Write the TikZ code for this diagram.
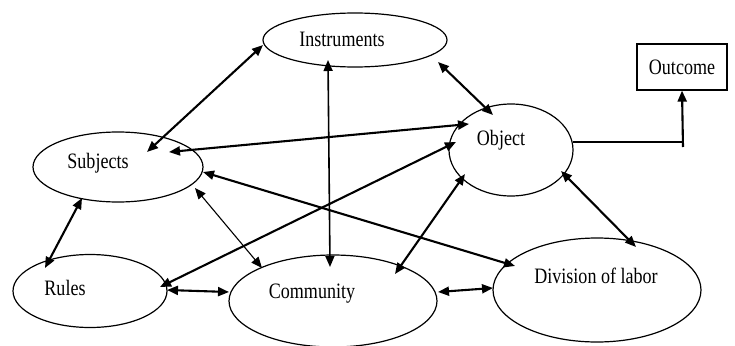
\documentclass[tikz,border=0pt]{standalone}
\usepackage{fontspec}
\setmainfont{Liberation Serif}[FakeStretch=0.82]
\usetikzlibrary{arrows.meta,shapes.geometric}
\begin{document}
\begin{tikzpicture}[x=1pt,y=-1pt,
  ell/.style={draw,ellipse,line width=1.2pt,inner sep=0pt},
  lbl/.style={anchor=base,inner sep=0pt,font=\fontsize{22}{24}\selectfont},
  tip/.style={{Triangle[length=11pt,width=9pt]}-{Triangle[length=11pt,width=9pt]}},
  heavy/.style={tip,line width=2.1pt},
  medium/.style={tip,line width=1.6pt},
  light/.style={tip,line width=1.1pt},
  ]
\useasboundingbox (0,0) rectangle (735,345);
% ellipses
\node[ell,minimum width=184pt,minimum height=54pt] (inst) at (355,40) {};
\node[ell,minimum width=170pt,minimum height=70pt] (subj) at (118,167) {};
\node[ell,minimum width=124pt,minimum height=92pt] (obj) at (511,150) {};
\node[ell,minimum width=154pt,minimum height=73pt] (rules) at (90,291) {};
\node[ell,minimum width=208pt,minimum height=92pt] (comm) at (333,301) {};
\node[ell,minimum width=208pt,minimum height=104pt] (div) at (597,290) {};
\node[draw,line width=1.2pt,minimum width=90pt,minimum height=46pt,inner sep=0pt,
      font=\fontsize{22}{24}\selectfont] (out) at (682,67) {Outcome};
% labels
\node[lbl] (instT) at (342,47) {Instruments};
\node[lbl] (subjT) at (98,168) {Subjects};
\node[lbl] (objT) at (501,145) {Object};
\node[lbl] (rulesT) at (65,295) {Rules};
\node[lbl] (commT) at (312,298) {Community};
\node[lbl] (divT) at (596,283) {Division of labor};
% connectors
\draw[heavy] ([shift={(-92,5)}]inst.center) -- ([shift={(29,-15)}]subj.center);
\draw[heavy] ([shift={(83,22)}]inst.center) -- ([shift={(-18,-35)}]obj.center);
\draw[medium] ([shift={(-27,20)}]inst.center) -- ([shift={(-3,-34)}]comm.center);
\draw[heavy] ([shift={(51,-15)}]subj.center) -- ([shift={(-42,-26)}]obj.center);
\draw[heavy] ([shift={(-55,-8)}]obj.center) -- ([shift={(70,-4)}]rules.center);
\draw[heavy] ([shift={(85,5)}]subj.center) -- ([shift={(-82,-24)}]div.center);
\draw[light] ([shift={(77,21)}]subj.center) -- ([shift={(-71,-33)}]comm.center);
\draw[heavy] ([shift={(-36,31)}]subj.center) -- ([shift={(-45,-23)}]rules.center);
\draw[heavy] ([shift={(77,-1)}]rules.center) -- ([shift={(-104,-9)}]comm.center);
\draw[heavy] ([shift={(105,-9)}]comm.center) -- ([shift={(-104,-2)}]div.center);
\draw[heavy] ([shift={(-46,24)}]obj.center) -- ([shift={(62,-27)}]comm.center);
\draw[heavy] ([shift={(50,21)}]obj.center) -- ([shift={(39,-43)}]div.center);
% object to outcome
\coordinate (join) at (683,142);
\draw[line width=1.1pt] ([shift={(62,-8)}]obj.center) -- (join);
\draw[line width=2.1pt,-{Triangle[length=11pt,width=9pt]}] ([yshift=-5pt]join) -- (out.south);
\end{tikzpicture}
\end{document}
